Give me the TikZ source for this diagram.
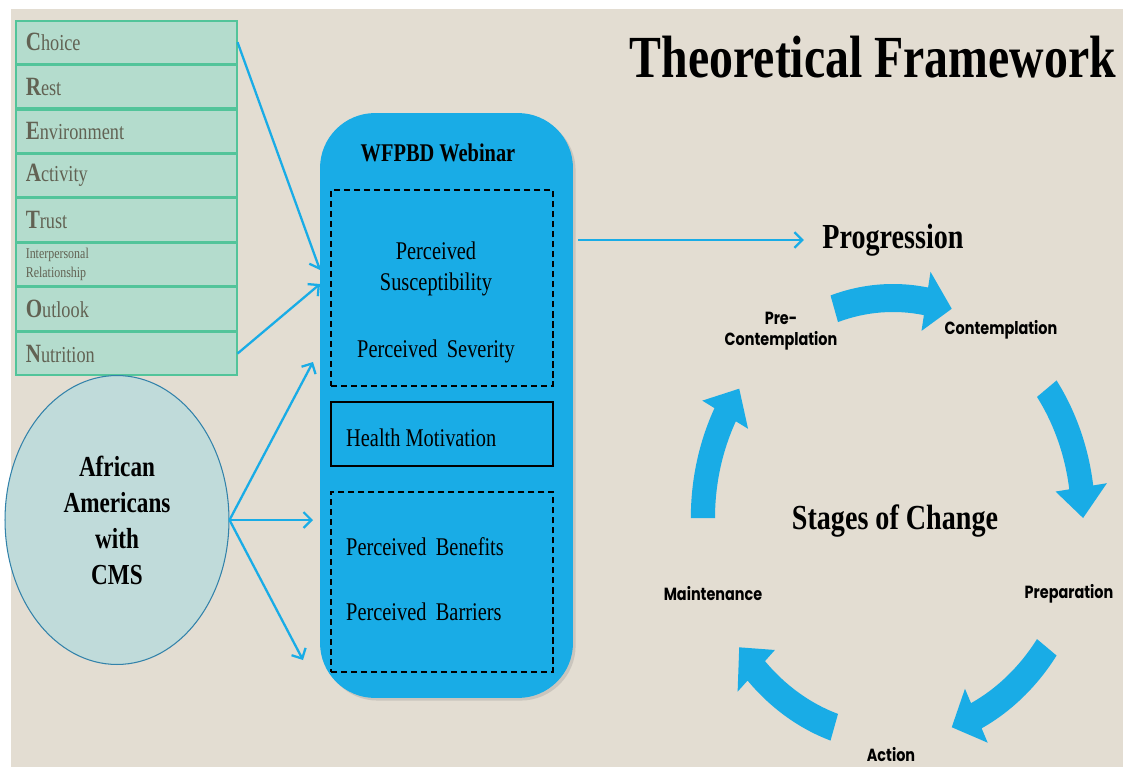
\documentclass[tikz,border=0pt]{standalone}
\usepackage{fontspec}
\setmainfont[FakeStretch=0.8]{Liberation Serif}
\newfontfamily\stagefont[FakeStretch=0.82]{Poppins}
\usepackage{xcolor}
\usetikzlibrary{arrows.meta, positioning, shapes.geometric, shadows, calc}

\definecolor{bgbeige}{HTML}{E3DDD2}
\definecolor{webblue}{HTML}{19ACE6}
\definecolor{crestfill}{HTML}{B4DCCD}
\definecolor{crestline}{HTML}{52C49A}
\definecolor{cresttext}{HTML}{626253}
\definecolor{aafill}{HTML}{C0DBDA}
\definecolor{aaline}{HTML}{3282AA}

\newcommand{\crestcap}[1]{{\fontsize{15}{15}\selectfont\bfseries #1}}

\begin{document}
\begin{tikzpicture}[x=0.02cm, y=-0.02cm,
    crestbox/.style={rectangle, draw=crestline, line width=0.9pt, fill=crestfill, minimum height=0.858cm, text width=4.02cm, inner xsep=0.2cm, align=left, text=cresttext, font=\fontsize{13}{15}\selectfont},
    webbox/.style={rectangle, rounded corners=1.1cm, fill=webblue, minimum width=5.06cm, minimum height=11.7cm, drop shadow={shadow xshift=1.5pt, shadow yshift=-1.5pt, opacity=0.25}},
    dashbox/.style={rectangle, draw, dashed, dash pattern=on 3.5pt off 2.2pt, line width=0.9pt, minimum width=4.44cm},
    solidbox/.style={rectangle, draw, line width=1.1pt, minimum width=4.44cm, minimum height=1.28cm},
    webtext/.style={font=\fontsize{14.5}{18}\selectfont, align=center},
    stagelabel/.style={font=\stagefont\bfseries\fontsize{10}{12}\selectfont, align=center},
    link/.style={draw=webblue, line width=1.3pt, -{Straight Barb[length=4.5pt, width=9pt]}}]
  \useasboundingbox (0,0) rectangle (1123,767);
  \fill[white] (0,0) rectangle (1123,767);
  \fill[bgbeige] (11,9) rectangle (1123,767);

  % CREATION acronym
  \node[crestbox, anchor=north west] (choice) at (15,20) {\crestcap{C}hoice};
  \node[crestbox, below=0pt of choice] (rest) {\crestcap{R}est};
  \node[crestbox, below=0pt of rest] (environ) {\crestcap{E}nvironment};
  \node[crestbox, below=0pt of environ] (activity) {\crestcap{A}ctivity};
  \node[crestbox, below=0pt of activity] (trust) {\crestcap{T}rust};
  \node[crestbox, below=0pt of trust, inner ysep=1pt, font=\fontsize{8.5}{11}\selectfont] (interpers) {Interpersonal\\Relationship};
  \node[crestbox, below=0pt of interpers] (outlook) {\crestcap{O}utlook};
  \node[crestbox, below=0pt of outlook] (nutrition) {\crestcap{N}utrition};

  % target population
  \node[ellipse, draw=aaline, line width=0.6pt, fill=aafill, minimum width=4.48cm, minimum height=5.78cm, align=center, font=\fontsize{16.5}{20.5}\selectfont\bfseries] (aa) at (117,520) {African\\Americans\\with\\CMS};

  % webinar
  \node[webbox] (webinar) at (446.5,405.5) {};
  \node[font=\fontsize{14.5}{16}\selectfont\bfseries] (webtitle) at (438,153) {WFPBD Webinar};
  \node[dashbox, minimum height=3.92cm] (threat) at (442,288) {};
  \node[solidbox] (motiv) at (442,434) {};
  \node[dashbox, minimum height=3.6cm] (balance) at (442,582) {};
  \node[webtext] (suscept) at (436,269) {Perceived\\Susceptibility};
  \node[webtext] (severity) at (436,351) {Perceived\, Severity};
  \node[webtext, anchor=west] (motivtext) at (340,438) {Health Motivation};
  \node[webtext, anchor=west] (benefits) at (340,547) {Perceived\, Benefits};
  \node[webtext, anchor=west] (barriers) at (340,612) {Perceived\, Barriers};

  \coordinate (in1) at (320,270);
  \coordinate (in2) at (320,284);
  \coordinate (in3) at (313,362);
  \coordinate (in4) at (313,520);
  \coordinate (in5) at (303,660);
  \draw[link] (choice.east) -- (in1);
  \draw[link] (nutrition.east) -- (in2);
  \draw[link] (aa.east) -- (in3);
  \draw[link] (aa.east) -- (in4);
  \draw[link] (aa.east) -- (in5);

  % stages of change
  \node[font=\fontsize{34}{36}\selectfont\bfseries] (title) at (873,57) {Theoretical Framework};
  \node[font=\fontsize{20}{22}\selectfont\bfseries] (prog) at (893,240) {Progression};
  \node[font=\fontsize{20}{22}\selectfont\bfseries] (stages) at (895,521) {Stages of Change};
  \draw[link] ($(webinar.east |- prog)+(5,0)$) -- ([xshift=-7pt]prog.west);

  \begin{scope}[shift={(893,518)}, yscale=-1, xscale=0.864]
    \foreach \m in {90,18,-54,-126,-198} {
      \pgfmathsetmacro{\tailang}{\m+18}
      \pgfmathsetmacro{\tipang}{\m-18}
      \pgfmathsetmacro{\headang}{\m-10}
      \fill[webblue] (\tailang:234) arc[start angle=\tailang, end angle=\headang, radius=234]
        -- (\headang:250) -- (\tipang:220) -- (\headang:190) -- (\headang:206)
        arc[start angle=\headang, end angle=\tailang, radius=206] -- cycle;
    }
  \end{scope}

  \node[stagelabel] (precont) at (781,331) {Pre-\\Contemplation};
  \node[stagelabel] (contemp) at (1001,330) {Contemplation};
  \node[stagelabel] (prepar) at (1069,594) {Preparation};
  \node[stagelabel] (action) at (891,755) {Action};
  \node[stagelabel] (mainten) at (713,594) {Maintenance};
\end{tikzpicture}
\end{document}
